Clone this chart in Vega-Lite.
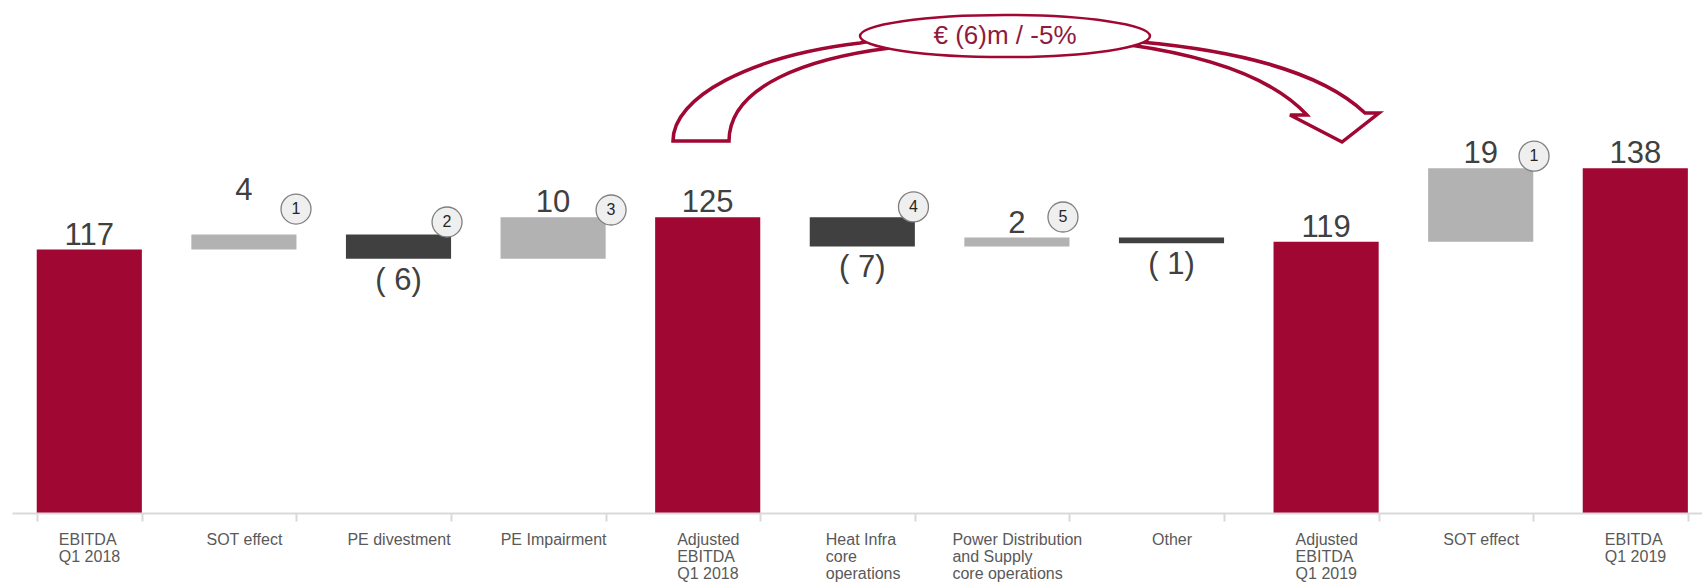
{
  "$schema": "https://vega.github.io/schema/vega-lite/v6.json",
  "width": 1702,
  "height": 513,
  "autosize": {"type": "none"},
  "padding": {"left": 0, "top": 0, "right": 0, "bottom": 69},
  "background": "white",
  "config": {"view": {"stroke": null}, "font": "Liberation Sans"},
  "datasets": {
    "bars": [
      {"cat": "EBITDA|Q1 2018", "start": 0, "end": 117, "labelAt": 117, "kind": "total", "label": "117"},
      {"cat": "SOT effect", "start": 117, "end": 120.9, "labelAt": 128.6, "kind": "up", "label": "4"},
      {"cat": "PE divestment", "start": 120.9, "end": 114.6, "labelAt": 114.6, "kind": "down", "label": "( 6)"},
      {"cat": "PE Impairment", "start": 114.6, "end": 125.3, "labelAt": 125.3, "kind": "up", "label": "10"},
      {"cat": "Adjusted|EBITDA|Q1 2018", "start": 0, "end": 125.3, "labelAt": 125.3, "kind": "total", "label": "125"},
      {"cat": "Heat Infra|core|operations", "start": 125.3, "end": 117.8, "labelAt": 117.8, "kind": "down", "label": "( 7)"},
      {"cat": "Power Distribution|and Supply|core operations", "start": 117.8, "end": 120.1, "labelAt": 120.1, "kind": "up", "label": "2"},
      {"cat": "Other", "start": 120.1, "end": 118.6, "labelAt": 118.6, "kind": "down", "label": "( 1)"},
      {"cat": "Adjusted|EBITDA|Q1 2019", "start": 0, "end": 119, "labelAt": 119, "kind": "total", "label": "119"},
      {"cat": "SOT effect ", "start": 119, "end": 138, "labelAt": 138, "kind": "up", "label": "19"},
      {"cat": "EBITDA|Q1 2019", "start": 0, "end": 138, "labelAt": 138, "kind": "total", "label": "138"}
    ],
    "notes": [
      {"n": "1", "xu": 1.837, "yv": 127.45},
      {"n": "2", "xu": 2.814, "yv": 124.1},
      {"n": "3", "xu": 3.875, "yv": 127.2},
      {"n": "4", "xu": 5.831, "yv": 128.0},
      {"n": "5", "xu": 6.798, "yv": 125.4},
      {"n": "1", "xu": 9.845, "yv": 141.1}
    ],
    "arrow": [{"xu": 6.5, "yv": 160}],
    "bubble": [{"xu": 6.423, "yv": 172.1, "text": "€ (6)m / -5%"}]
  },
  "layer": [
    {
      "data": {"name": "bars"},
      "encoding": {
        "x": {
          "field": "cat", "type": "nominal", "sort": null,
          "scale": {"range": [12, 1712.6], "paddingInner": 0.32, "paddingOuter": 0.16},
          "axis": {
            "title": null,
            "labelExpr": "isValid(datum.value) ? split(datum.value, '|') : ''",
            "labelAngle": 0,
            "labelAlign": {"condition": {"test": "isValid(datum.value) && indexof(datum.value, '|') >= 0", "value": "left"}, "value": "center"},
            "labelOffset": {"condition": [
              {"test": "isValid(datum.value) && indexof(datum.value, 'Power') >= 0", "value": -65},
              {"test": "isValid(datum.value) && indexof(datum.value, 'Heat') >= 0", "value": -37},
              {"test": "isValid(datum.value) && indexof(datum.value, '|') >= 0", "value": -31}
            ], "value": 0},
            "labelBaseline": "top", "labelFontSize": 16,
            "labelFont": "Liberation Sans", "labelColor": "#595959", "labelLineHeight": 17,
            "labelPadding": 10, "labelLimit": 0, "labelOverlap": false,
            "tickSize": 8, "tickBand": "extent", "tickColor": "#d9d9d9", "tickWidth": 2,
            "domainColor": "#d9d9d9", "domainWidth": 2, "zindex": 1
          }
        }
      },
      "layer": [
        {
          "mark": {"type": "bar", "clip": true},
          "encoding": {
            "y": {"field": "start", "type": "quantitative", "scale": {"domain": [49, 181.4], "zero": false, "nice": false}, "axis": null},
            "y2": {"field": "end"},
            "color": {"field": "kind", "type": "nominal", "scale": {"domain": ["total", "up", "down"], "range": ["#A00732", "#B2B2B2", "#404040"]}, "legend": null}
          }
        },
        {
          "mark": {"type": "text", "baseline": "alphabetic", "dy": -5, "fontSize": 31, "color": "#404040", "font": "Liberation Sans"},
          "encoding": {
            "y": {"field": "labelAt", "type": "quantitative", "axis": null},
            "text": {"condition": {"test": "datum.kind !== 'down'", "field": "label", "type": "nominal"}, "value": ""}
          }
        },
        {
          "mark": {"type": "text", "baseline": "alphabetic", "dy": 31, "fontSize": 31, "color": "#404040", "font": "Liberation Sans"},
          "encoding": {
            "y": {"field": "labelAt", "type": "quantitative", "axis": null},
            "text": {"condition": {"test": "datum.kind === 'down'", "field": "label", "type": "nominal"}, "value": ""}
          }
        }
      ]
    },
    {
      "layer": [
        {
          "data": {"name": "arrow"},
          "mark": {
            "type": "point", "filled": true, "fill": "white", "stroke": "#A00732", "strokeWidth": 3.5, "opacity": 1, "size": 518400,
            "shape": "M -0.9553 0.1614 C -0.9553 0.0392 -0.7414 -0.0747 -0.4358 -0.1108 L -0.2692 -0.1414 L 0.2031 -0.1414 L 0.3419 -0.1136 C 0.5919 -0.0914 0.8419 -0.0358 0.9669 0.0836 L 1.0058 0.0836 L 0.9031 0.1642 L 0.7586 0.0892 L 0.8058 0.0892 C 0.7031 -0.0219 0.5086 -0.0775 0.3142 -0.1053 L 0.2031 -0.1192 L -0.2692 -0.1192 L -0.3525 -0.0969 C -0.5747 -0.0692 -0.7997 0.0058 -0.7997 0.1614 Z"
          },
          "encoding": {
            "x": {"field": "xu", "type": "quantitative", "scale": {"domain": [0, 11], "range": [12, 1712.6], "nice": false, "zero": false}, "axis": null},
            "y": {"field": "yv", "type": "quantitative", "axis": null}
          }
        },
        {
          "data": {"name": "bubble"},
          "mark": {
            "type": "point", "filled": true, "fill": "white", "stroke": "#A00732", "strokeWidth": 2.5, "opacity": 1, "size": 84100,
            "shape": "M -1 0 A 1 0.145 0 1 0 1 0 A 1 0.145 0 1 0 -1 0 Z"
          },
          "encoding": {
            "x": {"field": "xu", "type": "quantitative", "axis": null},
            "y": {"field": "yv", "type": "quantitative", "axis": null}
          }
        },
        {
          "data": {"name": "bubble"},
          "mark": {"type": "text", "baseline": "middle", "align": "center", "fontSize": 26, "color": "#8E1B3E", "font": "Liberation Sans"},
          "encoding": {
            "x": {"field": "xu", "type": "quantitative", "axis": null},
            "y": {"field": "yv", "type": "quantitative", "axis": null},
            "text": {"field": "text", "type": "nominal"}
          }
        },
        {
          "data": {"name": "notes"},
          "mark": {"type": "point", "shape": "circle", "filled": true, "fill": "#EFEFEF", "stroke": "#7F7F7F", "strokeWidth": 1.3, "opacity": 1, "size": 900},
          "encoding": {
            "x": {"field": "xu", "type": "quantitative", "axis": null},
            "y": {"field": "yv", "type": "quantitative", "axis": null}
          }
        },
        {
          "data": {"name": "notes"},
          "mark": {"type": "text", "baseline": "middle", "align": "center", "fontSize": 16, "color": "#262626", "font": "Liberation Sans"},
          "encoding": {
            "x": {"field": "xu", "type": "quantitative", "axis": null},
            "y": {"field": "yv", "type": "quantitative", "axis": null},
            "text": {"field": "n", "type": "nominal"}
          }
        }
      ]
    }
  ],
  "resolve": {"scale": {"x": "independent"}}
}
